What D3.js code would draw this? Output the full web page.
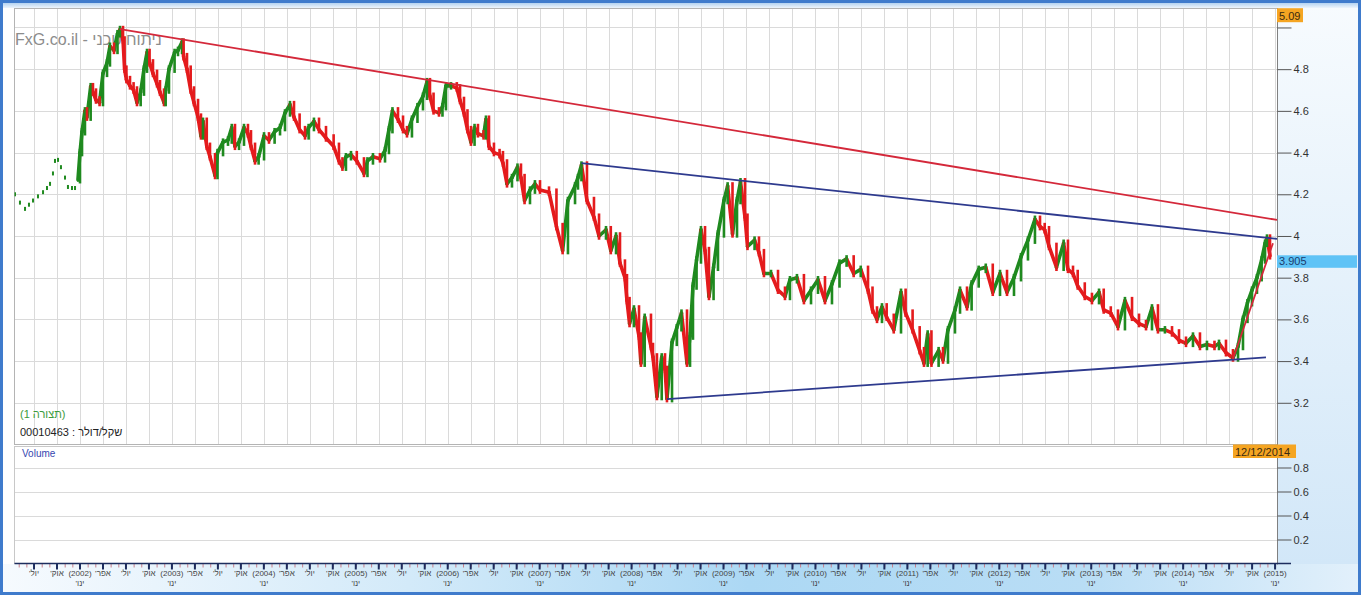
<!DOCTYPE html>
<html><head><meta charset="utf-8">
<script src="https://cdn.jsdelivr.net/npm/d3@7"></script>
<style>html,body{margin:0;padding:0;overflow:hidden;background:#fff}text{font-family:"Liberation Sans",Arial,sans-serif}</style>
</head><body><svg id="c" width="1361" height="595"></svg>
<script>
// ---- data (decimal years, USD/ILS closes) ----
const dates = [
2001.293,2001.347,2001.402,2001.445,2001.489,2001.543,2001.598,2001.641,2001.674,2001.706,2001.728,2001.761,2001.793,2001.837,2001.869,2001.913,2001.946,2001.978,
2002.000,2002.022,2002.054,2002.076,2002.116,2002.141,2002.174,2002.213,2002.250,2002.294,2002.326,2002.370,2002.408,2002.435,2002.468,2002.485,2002.505,2002.544,2002.583,2002.620,2002.660,2002.696,2002.729,2002.757,2002.794,2002.838,2002.870,2002.914,2002.932,2002.968,
2003.029,2003.066,2003.110,2003.127,2003.164,2003.204,2003.240,2003.284,2003.316,2003.338,2003.379,2003.414,2003.469,2003.496,2003.556,2003.610,2003.651,2003.686,2003.730,2003.784,2003.827,2003.860,2003.904,2003.943,
2004.002,2004.056,2004.117,2004.176,2004.230,2004.284,2004.328,2004.389,2004.448,2004.487,2004.545,2004.600,2004.676,2004.759,2004.817,2004.855,2004.893,2004.948,
2005.011,2005.089,2005.127,2005.187,2005.263,2005.318,2005.361,2005.399,2005.459,2005.514,2005.557,2005.611,2005.671,2005.731,2005.775,2005.807,2005.846,2005.905,2005.943,2005.981,
2006.036,2006.099,2006.134,2006.177,2006.215,2006.253,2006.292,2006.329,2006.390,2006.416,2006.449,2006.503,2006.564,2006.601,2006.645,2006.699,2006.759,2006.797,2006.836,2006.895,2006.949,
2007.004,2007.102,2007.183,2007.250,2007.308,2007.385,2007.417,2007.455,2007.515,2007.591,2007.646,2007.722,2007.774,2007.831,2007.874,2007.928,2007.950,2007.978,
2008.026,2008.081,2008.102,2008.143,2008.211,2008.233,2008.276,2008.328,2008.364,2008.385,2008.440,2008.492,2008.543,2008.603,2008.636,2008.668,2008.707,2008.755,2008.799,2008.842,2008.892,2008.940,
2009.005,2009.045,2009.098,2009.147,2009.185,2009.234,2009.261,2009.338,2009.386,2009.440,2009.517,2009.593,2009.669,2009.723,2009.799,2009.875,2009.952,
2010.028,2010.104,2010.180,2010.262,2010.339,2010.416,2010.493,2010.572,2010.621,2010.670,2010.724,2010.775,2010.852,2010.931,2010.981,
2011.057,2011.134,2011.181,2011.221,2011.262,2011.340,2011.388,2011.442,2011.518,2011.573,2011.649,2011.699,2011.776,2011.853,2011.929,
2012.008,2012.084,2012.160,2012.236,2012.312,2012.388,2012.443,2012.494,2012.541,2012.622,2012.700,2012.747,2012.802,2012.853,2012.930,
2013.008,2013.085,2013.136,2013.213,2013.291,2013.367,2013.444,2013.520,2013.596,2013.661,2013.726,2013.802,2013.879,2013.955,
2014.031,2014.107,2014.183,2014.259,2014.341,2014.390,2014.466,2014.542,2014.597,2014.651,2014.700,2014.749,2014.803,2014.854,2014.891,2014.912,2014.945];
const closes = [
4.20,4.16,4.13,4.15,4.17,4.19,4.21,4.23,4.25,4.30,4.36,4.365,4.33,4.28,4.235,4.23,4.23,4.27,
4.40,4.50,4.60,4.57,4.716,4.69,4.652,4.64,4.78,4.83,4.91,4.89,4.97,4.99,4.94,4.80,4.75,4.72,4.70,4.64,4.69,4.80,4.88,4.83,4.78,4.73,4.69,4.64,4.70,4.80,
4.88,4.89,4.93,4.86,4.80,4.70,4.64,4.57,4.48,4.55,4.43,4.38,4.29,4.40,4.45,4.46,4.52,4.43,4.45,4.52,4.49,4.43,4.36,4.38,
4.48,4.46,4.50,4.52,4.59,4.63,4.57,4.51,4.48,4.52,4.55,4.51,4.47,4.43,4.36,4.33,4.38,4.39,
4.36,4.30,4.36,4.38,4.37,4.41,4.51,4.60,4.56,4.51,4.49,4.56,4.62,4.67,4.74,4.67,4.60,4.59,4.62,4.72,
4.72,4.71,4.65,4.59,4.51,4.45,4.52,4.49,4.48,4.56,4.43,4.40,4.39,4.35,4.25,4.28,4.33,4.28,4.17,4.22,4.25,
4.22,4.21,4.045,3.93,4.17,4.24,4.28,4.34,4.17,4.09,4.00,4.03,3.93,4.00,3.87,3.80,3.69,3.58,
3.65,3.52,3.39,3.61,3.47,3.42,3.23,3.42,3.36,3.22,3.49,3.56,3.63,3.39,3.52,3.76,3.885,4.03,3.93,3.71,3.85,4.01,
4.17,4.24,4.01,4.17,4.26,4.09,3.95,3.98,3.92,3.82,3.82,3.74,3.71,3.79,3.80,3.69,3.74,
3.79,3.69,3.77,3.87,3.89,3.82,3.84,3.74,3.645,3.60,3.66,3.61,3.55,3.73,3.63,
3.55,3.45,3.39,3.53,3.39,3.45,3.405,3.55,3.645,3.74,3.66,3.77,3.84,3.85,3.73,
3.82,3.73,3.80,3.90,3.98,4.08,4.045,4.03,3.95,3.85,3.965,3.84,3.82,3.76,3.71,
3.69,3.73,3.645,3.63,3.565,3.69,3.61,3.58,3.565,3.655,3.55,3.55,3.535,3.50,
3.485,3.52,3.47,3.48,3.47,3.485,3.44,3.415,3.47,3.60,3.68,3.74,3.80,3.885,3.965,3.99,3.905];
const volumes = [];                      // volume panel is empty in the source
const priceTicks = [3.2,3.4,3.6,3.8,4.0,4.2,4.4,4.6,4.8,5.0];
const volumeTicks = [0.2,0.4,0.6,0.8];
const quarterNames = ["ינו'","אפר'","יול'","אוק'"];
const trendRed   = [[2002.435,4.992],[2015.021,4.077]];
const trendBlueU = [[2007.455,4.349],[2015.021,3.986]];
const trendBlueL = [[2008.385,3.218],[2014.901,3.418]];
const trendRecent= [[2014.542,3.410],[2014.977,3.965]];
const priceMax = 5.09, lastDate = "12/12/2014", lastClose = 3.905;
const watermark = "FxG.co.il - ניתוח טכני";
const legend1 = "(תצורה 1)", legend2 = "00010463 : שקל/דולר";

// ---- layout ----
const L=14.5, R=1277.5, T=8.5, B=444.5, VT=446.5, VB=563.5;
const x = d3.scaleLinear().domain([2001.293,2015.021]).range([15,1277]);
const y = d3.scaleLinear().domain([3.0,priceMax]).range([B,8.7]);
const yv = d3.scaleLinear().domain([0,1]).range([VB,443.5]);
const UP="#1f8a1f", DN="#e41b1d";

const svg = d3.select('#c');
const defs = svg.append('defs');
function grad(id,x2,y2,stops){const g=defs.append('linearGradient').attr('id',id).attr('x1',0).attr('y1',0).attr('x2',x2).attr('y2',y2);
 stops.forEach(s=>g.append('stop').attr('offset',s[0]).attr('stop-color',s[1]));}
grad('gBot',1,0,[[0,'#f6fafe'],[0.3,'#d3eaf9'],[0.55,'#acd8f4'],[0.8,'#b9ddf5'],[1,'#e2f0fb']]);
grad('gRight',0,1,[[0,'#f7fbfe'],[1,'#d2e7f8']]);
grad('gTop',0,1,[[0,'#a9ccef'],[1,'#eef5fc']]);
defs.append('clipPath').attr('id','clipMain').append('rect').attr('x',L).attr('y',T).attr('width',R-L).attr('height',B-T);

svg.append('rect').attr('width',1361).attr('height',595).attr('fill','#fff');
svg.append('rect').attr('x',1278).attr('y',3).attr('width',80).attr('height',562).attr('fill','url(#gRight)');
svg.append('rect').attr('x',3).attr('y',564).attr('width',1355).attr('height',28).attr('fill','url(#gBot)');
svg.append('rect').attr('x',3).attr('y',2).attr('width',1355).attr('height',6).attr('fill','url(#gTop)');
svg.append('rect').attr('x',1.5).attr('y',1.5).attr('width',1358).attr('height',592).attr('fill','none').attr('stroke','#3f7bcc').attr('stroke-width',3);

// panels
svg.append('rect').attr('x',L).attr('y',T).attr('width',R-L).attr('height',B-T).attr('fill','#fff');
svg.append('rect').attr('x',L).attr('y',VT).attr('width',R-L).attr('height',VB-VT).attr('fill','#fff');

// tick sets for the time axis
const monthTicks=[], quarterTicks=[];
for(let Y=2001;Y<=2015;Y++) for(let m=0;m<12;m++){const v=Y+m/12; if(v>=x.domain()[0]&&v<=x.domain()[1]){monthTicks.push(v); if(m%3===0) quarterTicks.push({v,Y,q:m/3});}}

// grid
const grid = svg.append('g').attr('stroke','#dadada').attr('stroke-width',1);
grid.selectAll('line.v').data(quarterTicks).join('line').attr('class','v')
  .attr('x1',d=>Math.round(x(d.v))+0.5).attr('x2',d=>Math.round(x(d.v))+0.5).attr('y1',T).attr('y2',B);
grid.selectAll('line.h').data(priceTicks).join('line').attr('class','h')
  .attr('x1',L).attr('x2',R).attr('y1',d=>Math.round(y(d))+0.5).attr('y2',d=>Math.round(y(d))+0.5);
grid.selectAll('line.hv').data(volumeTicks).join('line').attr('class','hv')
  .attr('x1',L).attr('x2',R).attr('y1',d=>Math.round(yv(d))+0.5).attr('y2',d=>Math.round(yv(d))+0.5);

svg.append('rect').attr('x',L).attr('y',T).attr('width',R-L).attr('height',B-T).attr('fill','none').attr('stroke','#b4b4b4');
svg.append('rect').attr('x',L).attr('y',VT).attr('width',R-L).attr('height',VB-VT).attr('fill','none').attr('stroke','#c8c8c8');

// watermark
svg.append('text').attr('x',15).attr('y',45).attr('font-size',16).attr('fill','#8c8c8c').text(watermark);

// price series
const pts = dates.map((d,i)=>({d, c:closes[i], p: i?closes[i-1]:closes[i], pd: i?dates[i-1]:d}));
const series = svg.append('g').attr('clip-path','url(#clipMain)');
const early = pts.filter(p=>p.d<2002), main = pts.filter((p,i)=>p.d>=2002);
series.selectAll('rect.e').data(early).join('rect').attr('class','e')
  .attr('x',p=>x(p.d)-1).attr('width',2).attr('y',p=>y(p.c)-2).attr('height',4).attr('fill',UP);
series.selectAll('line.s').data(main).join('line').attr('class','s')
  .attr('x1',p=>x(p.pd)).attr('y1',p=>y(p.p)).attr('x2',p=>x(p.d)).attr('y2',p=>y(p.c))
  .attr('stroke',p=>p.c>=p.p?UP:DN).attr('stroke-width',3.6).attr('stroke-linecap','round');
const wick=0.018;
series.selectAll('rect.w').data(main).join('rect').attr('class','w')
  .attr('x',p=>x(p.d)-1.3).attr('width',2.6)
  .attr('y',p=>y(Math.max(p.c,p.p)+wick)).attr('height',p=>y(Math.min(p.c,p.p)-wick)-y(Math.max(p.c,p.p)+wick))
  .attr('fill',p=>p.c>=p.p?UP:DN);

// trend lines
const tl = d3.line().x(d=>x(d[0])).y(d=>y(d[1]));
[[trendRed,'#d4283a'],[trendBlueU,'#2e3a8e'],[trendBlueL,'#2e3a8e'],[trendRecent,'#d4283a']].forEach(([data,col])=>{
  series.append('path').attr('d',tl(data)).attr('fill','none').attr('stroke',col).attr('stroke-width',1.8);
});

// legend texts
svg.append('text').attr('x',20).attr('y',418).attr('font-size',11).attr('fill','#3a9a3a').text(legend1);
svg.append('text').attr('x',20).attr('y',436).attr('font-size',11).attr('fill','#222').text(legend2);
svg.append('text').attr('x',22).attr('y',457).attr('font-size',10).attr('fill','#3646b0').text('Volume');

// right axes
svg.append('line').attr('x1',R).attr('x2',R).attr('y1',T).attr('y2',VB+1).attr('stroke','#808080');
const maxBox = {y0: y(priceMax)-0.5, y1: y(priceMax)+13.5};
const ya = svg.append('g').attr('transform',`translate(${R},0)`)
  .call(d3.axisRight(y).tickValues(priceTicks).tickSize(14).tickFormat(d=>d3.format('~g')(d)));
ya.select('.domain').remove();
ya.selectAll('.tick line').attr('stroke','#555');
ya.selectAll('.tick text').attr('font-size',11).attr('fill','#333').attr('dx',-1)
  .style('font-family','"Liberation Sans",Arial,sans-serif')
  .attr('display',d=>(y(d)>maxBox.y0-6&&y(d)<maxBox.y1+6)?'none':null);
const va = svg.append('g').attr('transform',`translate(${R},0)`)
  .call(d3.axisRight(yv).tickValues(volumeTicks).tickSize(14).tickFormat(d3.format('.1f')));
va.select('.domain').remove();
va.selectAll('.tick line').attr('stroke','#555');
va.selectAll('.tick text').attr('font-size',11).attr('fill','#333').attr('dx',-1).style('font-family','"Liberation Sans",Arial,sans-serif');

// value boxes
function box(x0,y0,w,h,fill,txt,tcol,tx){
  svg.append('rect').attr('x',x0).attr('y',y0).attr('width',w).attr('height',h).attr('fill',fill);
  svg.append('text').attr('x',tx).attr('y',y0+h-2.5).attr('font-size',11).attr('fill',tcol).text(txt);
}
box(R-0.5, maxBox.y0, 26, 14, '#f5a522', d3.format('.2f')(priceMax), '#3b2a10', R+1.5);
box(R-0.5, y(lastClose)-0.5, 80, 12.5, '#5fc3f6', d3.format('.3f')(lastClose), '#1b3c6c', R+1.5);
box(1233, 444.5, 63, 13.5, '#f5a522', lastDate, '#3b2a10', 1235);

// bottom time axis
const xa = svg.append('g').attr('transform',`translate(0,${VB})`)
  .call(d3.axisBottom(x).tickValues(monthTicks).tickSize(4).tickFormat(''));
xa.select('.domain').remove();
xa.selectAll('.tick line').attr('stroke','#c8808c').attr('stroke-width',1);
svg.append('line').attr('x1',L).attr('x2',1291).attr('y1',VB).attr('y2',VB).attr('stroke','#1d2d5e').attr('stroke-width',1.5);
const qa = svg.append('g');
qa.selectAll('line').data(quarterTicks).join('line')
  .attr('x1',d=>x(d.v)).attr('x2',d=>x(d.v)).attr('y1',VB).attr('y2',VB+6).attr('stroke','#1d2d5e').attr('stroke-width',2);
qa.selectAll('text.m').data(quarterTicks).join('text').attr('class','m')
  .attr('x',d=>x(d.v)).attr('y',576).attr('text-anchor','middle').attr('font-size',8).attr('fill','#444')
  .attr('direction',d=>d.q?'rtl':'ltr')
  .text(d=>d.q?quarterNames[d.q]:`(${d.Y})`);
qa.selectAll('text.j').data(quarterTicks.filter(d=>d.q===0)).join('text').attr('class','j')
  .attr('x',d=>x(d.v)).attr('y',586).attr('text-anchor','middle').attr('font-size',8).attr('fill','#444')
  .attr('direction','rtl').text(quarterNames[0]);
</script></body></html>
